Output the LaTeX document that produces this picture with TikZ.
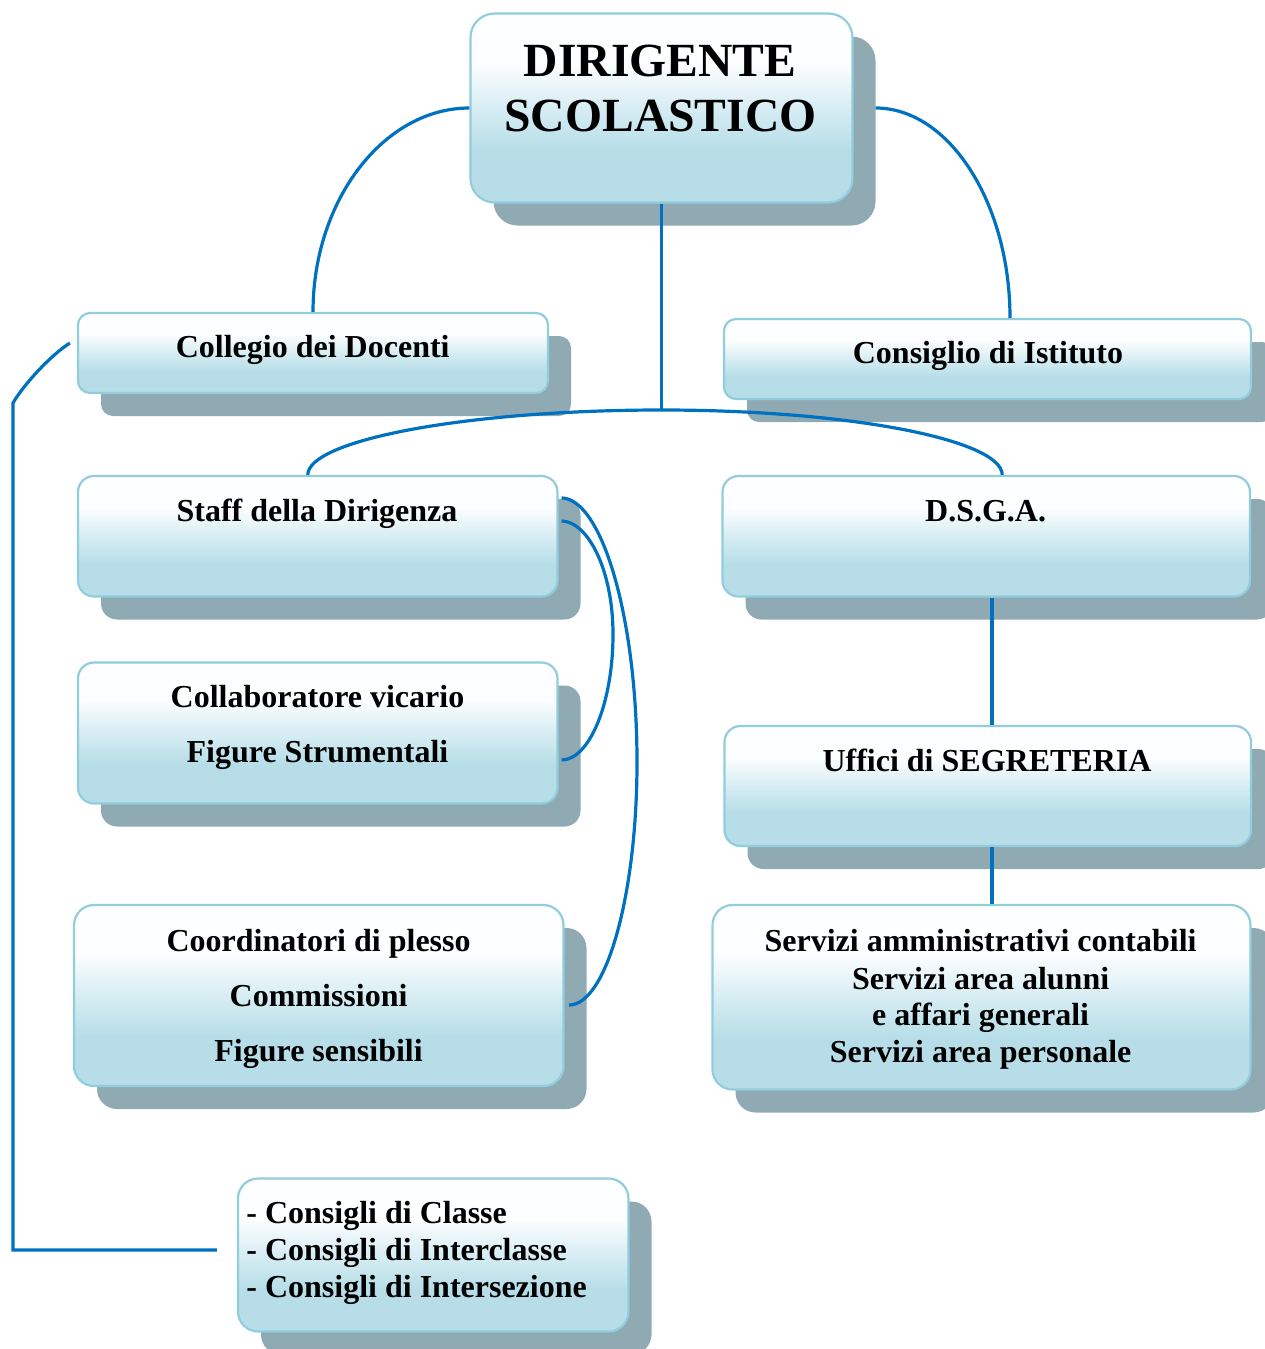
\documentclass[tikz,border=0pt]{standalone}
\usepackage{fontspec}
\setmainfont{Liberation Serif}
\usetikzlibrary{shadows}
\definecolor{boxblue}{RGB}{183,222,232}
\definecolor{boxmid}{RGB}{215,237,243}
\definecolor{boxtop}{RGB}{253,254,255}
\definecolor{boxline}{RGB}{146,205,221}
\definecolor{shadowcol}{RGB}{143,170,178}
\definecolor{linkblue}{RGB}{0,112,192}
\pgfdeclareverticalshading{boxshade}{100bp}{color(0bp)=(boxblue); color(25bp)=(boxblue); color(39bp)=(boxblue); color(50bp)=(boxmid); color(62bp)=(boxtop); color(75bp)=(boxtop); color(100bp)=(boxtop)}
\begin{document}
\begin{tikzpicture}[x=0.5pt,y=-0.5pt,
  orgbox/.style={rectangle, draw=boxline, line width=1.1pt, shade, shading=boxshade, inner sep=0pt,
    drop shadow={shadow xshift=11.5pt, shadow yshift=-11.5pt, fill=shadowcol, opacity=1}},
  lbl/.style={font=\bfseries\fontsize{16pt}{18.5pt}\selectfont, anchor=base, inner sep=0pt},
  biglbl/.style={font=\bfseries\fontsize{23.8pt}{28pt}\selectfont, anchor=base, inner sep=0pt},
  link/.style={draw=linkblue, line width=1.6pt}]
\useasboundingbox (0,0) rectangle (1264,1349);

% boxes
\node[orgbox, rounded corners=12pt, minimum width=191pt, minimum height=94.5pt] (dir) at (661.5,108) {};
\node[orgbox, rounded corners=6pt, minimum width=235pt, minimum height=40pt] (coll) at (313,353) {};
\node[orgbox, rounded corners=6pt, minimum width=263.5pt, minimum height=40pt] (cons) at (987.5,359) {};
\node[orgbox, rounded corners=8pt, minimum width=239.75pt, minimum height=60.25pt] (staff) at (317.75,536.25) {};
\node[orgbox, rounded corners=8pt, minimum width=263.75pt, minimum height=60.25pt] (dsga) at (986.25,536.25) {};
\node[orgbox, rounded corners=8pt, minimum width=239.75pt, minimum height=70.5pt] (collab) at (317.75,733) {};
\node[orgbox, rounded corners=8pt, minimum width=263.25pt, minimum height=60pt] (uff) at (987.75,786) {};
\node[orgbox, rounded corners=10pt, minimum width=244.75pt, minimum height=90.5pt] (coord) at (318.75,995.5) {};
\node[orgbox, rounded corners=10pt, minimum width=269pt, minimum height=92.25pt] (serv) at (981.5,997.25) {};
\node[orgbox, rounded corners=10pt, minimum width=195.25pt, minimum height=76.5pt] (consigli) at (433.25,1255) {};

% texts
\node[biglbl] (dirT1) at (660,76) {DIRIGENTE};
\node[biglbl] (dirT2) at (660.5,131.7) {SCOLASTICO};
\node[lbl] (collT) at (312.7,357.3) {Collegio dei Docenti};
\node[lbl] (consT) at (988,363) {Consiglio di Istituto};
\node[lbl] (staffT) at (317,521.7) {Staff della Dirigenza};
\node[lbl] (dsgaT) at (985.6,521.7) {D.S.G.A.};
\node[lbl] (collabT1) at (317.5,707) {Collaboratore vicario};
\node[lbl] (collabT2) at (317.5,762) {Figure Strumentali};
\node[lbl] (uffT) at (987,771.7) {Uffici di SEGRETERIA};
\node[lbl] (coordT1) at (318.6,951.7) {Coordinatori di plesso};
\node[lbl] (coordT2) at (318.6,1006.7) {Commissioni};
\node[lbl] (coordT3) at (318.6,1061.7) {Figure sensibili};
\node[lbl] (servT1) at (980.6,951.7) {Servizi amministrativi contabili};
\node[lbl] (servT2) at (980.6,989.3) {Servizi area alunni};
\node[lbl] (servT3) at (980.6,1025.7) {e affari generali};
\node[lbl] (servT4) at (980.6,1062.7) {Servizi area personale};
\node[lbl, anchor=base west] (consT1) at (246,1223) {- Consigli di Classe};
\node[lbl, anchor=base west] (consT2) at (246,1260.7) {- Consigli di Interclasse};
\node[lbl, anchor=base west] (consT3) at (246,1297) {- Consigli di Intersezione};

% connector points
\coordinate (dirR) at ([shift={(22,0)}]dir.east);
\coordinate (consTop) at ([shift={(22.5,0)}]cons.north);
\coordinate (hub) at (661.5,410);
\coordinate (staffTop) at ([shift={(-10,0)}]staff.north);
\coordinate (dsgaTop) at ([shift={(16,0)}]dsga.north);
\coordinate (d1) at ([shift={(5.75,0)}]dsga.south);
\coordinate (d2) at (d1 |- uff.north);
\coordinate (u1) at (d1 |- uff.south);
\coordinate (u2) at (d1 |- serv.north);
\coordinate (s1) at ([shift={(3,23)}]staff.north east);
\coordinate (s2) at ([shift={(3,46)}]staff.north east);
\coordinate (c1) at ([shift={(4.5,9.5)}]coord.east);
\coordinate (c2) at ([shift={(3,27)}]collab.east);
\coordinate (l1) at ([shift={(-7,-10)}]coll.west);
\coordinate (lc) at (13,403);
\coordinate (k1) at ([shift={(-20,-5)}]consigli.west);

% connectors
\draw[link] (dir.west) .. controls (384,108) and (313,200) .. (coll.north);
\draw[link] (dirR) .. controls (949,108) and (1010,203) .. (consTop);
\draw[link] (dir.south) -- (hub);
\draw[link] (staffTop) .. controls (308,440) and (467,410) .. (hub)
  .. controls (850,410) and (1002,440) .. (dsgaTop);
\draw[link] (d1) -- (d2);
\draw[link] (u1) -- (u2);
\draw[link] (s1) .. controls (602,499) and (637,618) .. (637,762)
  .. controls (637,896) and (606,1005) .. (c1);
\draw[link] (s2) .. controls (589,522) and (613,572) .. (613,634)
  .. controls (613,704) and (589,760) .. (c2);
\draw[link] (l1) .. controls (51,355) and (24,384) .. (lc) -- (lc |- k1) -- (k1);
\end{tikzpicture}
\end{document}
